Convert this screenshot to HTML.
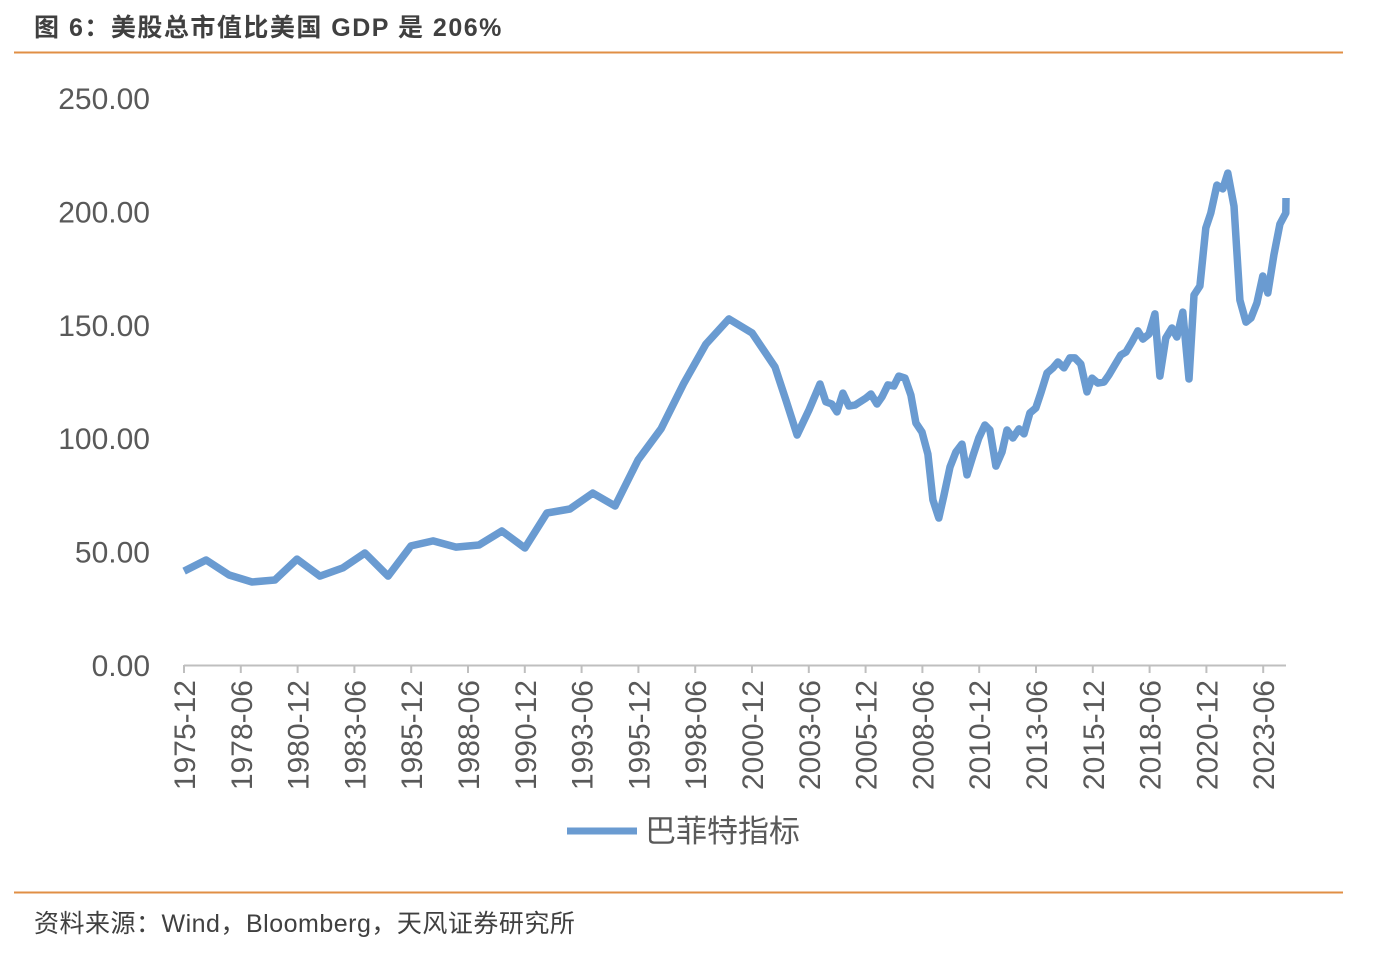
<!DOCTYPE html>
<html><head><meta charset="utf-8">
<style>
body{margin:0;background:#fff;width:1392px;height:948px;overflow:hidden;font-family:"Liberation Sans","Noto Sans CJK SC",sans-serif;}
</style></head>
<body>
<svg width="1392" height="948" xmlns="http://www.w3.org/2000/svg">
<text x="34" y="36" font-size="25" font-weight="bold" fill="#404040" letter-spacing="1.5" font-family="Liberation Sans, Noto Sans CJK SC, sans-serif">图 6：美股总市值比美国 GDP 是 206%</text>
<line x1="14" y1="52.5" x2="1343" y2="52.5" stroke="#E08F45" stroke-width="2"/>
<line x1="14" y1="892.5" x2="1343" y2="892.5" stroke="#E08F45" stroke-width="2"/>
<text x="34" y="932" font-size="25" fill="#404040" letter-spacing="0.5" font-family="Liberation Sans, Noto Sans CJK SC, sans-serif">资料来源：Wind，Bloomberg，天风证券研究所</text>
<g id="yaxis"></g>
<g id="xaxis"></g>
<g id="plot"></g>
<line x1="567" y1="831" x2="637" y2="831" stroke="#6A9BD1" stroke-width="7"/>
<text x="645" y="842" font-size="31" fill="#595959" font-family="Liberation Sans, Noto Sans CJK SC, sans-serif">巴菲特指标</text>
</svg>
<script>
const yTicks=[0,50,100,150,200,250];
const yTickLabels=["0.00","50.00","100.00","150.00","200.00","250.00"];
const xTickLabels=["1975-12","1978-06","1980-12","1983-06","1985-12","1988-06","1990-12","1993-06","1995-12","1998-06","2000-12","2003-06","2005-12","2008-06","2010-12","2013-06","2015-12","2018-06","2020-12","2023-06"];
const dates=[1975.92,1976.89,1977.90,1978.91,1979.92,1980.89,1981.90,1982.91,1983.88,1984.90,1985.91,1986.88,1987.89,1988.90,1989.91,1990.92,1991.89,1992.90,1993.91,1994.89,1995.90,1996.91,1997.92,1998.89,1999.90,2000.92,2001.93,2002.41,2002.90,2003.42,2003.91,2004.17,2004.43,2004.66,2004.92,2005.18,2005.45,2005.93,2006.15,2006.42,2006.64,2006.90,2007.16,2007.38,2007.65,2007.91,2008.13,2008.40,2008.66,2008.88,2009.14,2009.36,2009.63,2009.89,2010.16,2010.38,2010.64,2010.90,2011.17,2011.39,2011.65,2011.92,2012.14,2012.40,2012.67,2012.89,2013.15,2013.41,2013.63,2013.90,2014.16,2014.38,2014.65,2014.91,2015.13,2015.39,2015.66,2015.88,2016.14,2016.41,2016.63,2016.89,2017.15,2017.38,2017.64,2017.90,2018.12,2018.39,2018.65,2018.87,2019.13,2019.40,2019.62,2019.88,2020.15,2020.37,2020.63,2020.89,2021.11,2021.38,2021.64,2021.86,2022.13,2022.39,2022.66,2022.88,2023.14,2023.40,2023.62,2023.89,2024.15,2024.41,2024.42];
const values=[41.4,46.3,39.7,36.6,37.5,46.7,39.2,42.8,49.4,39.2,52.5,54.7,52.0,52.9,59.1,51.6,67.0,68.8,75.8,70.1,90.4,104.1,124.3,141.5,152.6,146.4,131.4,116.8,101.4,112.4,123.9,116.0,115.1,111.6,119.9,114.2,114.6,117.7,119.5,115.1,118.2,123.5,123.0,127.4,126.5,119.0,106.7,102.7,93.0,72.8,64.8,74.5,87.3,93.9,97.4,83.8,92.2,100.1,105.8,103.6,87.7,93.9,103.6,100.1,104.1,101.9,111.1,113.3,119.9,128.7,131.0,133.6,131.0,135.4,135.4,132.7,120.4,126.5,124.3,124.8,127.9,132.3,136.7,138.0,142.4,147.3,143.7,145.9,154.8,127.4,144.2,148.6,144.6,155.6,126.1,163.1,167.1,192.7,199.3,211.6,209.9,216.9,202.3,160.9,151.2,153.0,159.6,171.5,164.0,180.8,194.4,199.3,205.9];
const NS="http://www.w3.org/2000/svg";
const y0=665,yPer=2.268,x0=184,xPerYear=22.72,d0=1975.917;
function ys(v){return y0-v*yPer;}
function xs(d){return x0+(d-d0)*xPerYear;}
function mk(tag,attrs,parent){const e=document.createElementNS(NS,tag);for(const k in attrs)e.setAttribute(k,attrs[k]);parent.appendChild(e);return e;}
const ya=document.getElementById('yaxis'),xa=document.getElementById('xaxis'),pl=document.getElementById('plot');
yTicks.forEach((t,i)=>{
 const tx=mk('text',{x:150,y:ys(t)+11,'text-anchor':'end','font-size':30,fill:'#595959'},ya);
 
 
 tx.textContent=yTickLabels[i];
});
const ax=mk('line',{x1:184,y1:665.5,x2:1286,y2:665.5,stroke:'#BFBFBF','stroke-width':2},xa);


xTickLabels.forEach((l,i)=>{
 const d=d0+i*2.5, x=xs(d);
 const tk=mk('line',{x1:x,y1:665,x2:x,y2:673,stroke:'#BFBFBF','stroke-width':2},xa);
 
 
 const tx=mk('text',{x:0,y:0,'text-anchor':'end','font-size':30,fill:'#595959',transform:`translate(${x+11},680) rotate(-90)`},xa);
 
 
 tx.textContent=l;
});
const pts=dates.map((d,i)=>xs(d).toFixed(1)+','+ys(values[i]).toFixed(1)).join(' ');
const line=mk('polyline',{points:pts,fill:'none',stroke:'#6A9BD1','stroke-width':7.5,'stroke-linejoin':'round'},pl);


</script>
</body></html>
